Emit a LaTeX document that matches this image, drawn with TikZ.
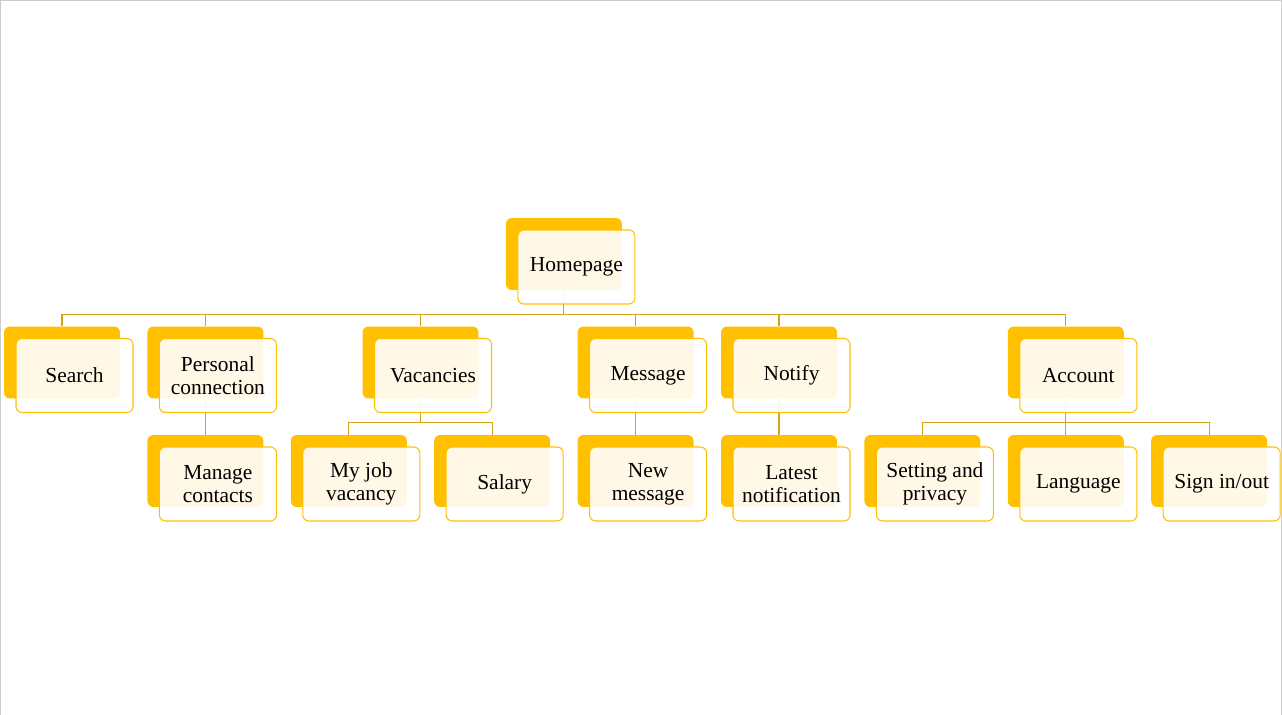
\documentclass[tikz,border=0pt]{standalone}
\usepackage{fontspec}
\setmainfont{Liberation Serif}
\definecolor{gold}{HTML}{FFC000}
\definecolor{linkgold}{HTML}{D4A419}

\begin{document}
\begin{tikzpicture}[x=0.02cm, y=-0.02cm,
    back/.style={fill=gold, rounded corners=0.12cm, minimum width=2.32cm, minimum height=1.44cm, inner sep=0pt},
    front/.style={draw=gold, line width=0.6pt, fill=white, fill opacity=0.9, text opacity=1, rounded corners=0.12cm,
        minimum width=2.34cm, minimum height=1.48cm, inner sep=0pt, align=center, font=\fontsize{12.2}{13}\selectfont},
    link/.style={draw=linkgold, line width=0.6pt}]
    \useasboundingbox (0,0) rectangle (1282,715);
    \draw[gray!40, line width=1pt] (0.5,715) -- (0.5,0.5) -- (1281.5,0.5) -- (1281.5,715);
    % boxes: name/column/row/text
    \def\boxes{home/3.5/0/Homepage, search/0/1/Search, pers/1/1/{Personal\\connection}, vac/2.5/1/Vacancies,
        msg/4/1/Message, notif/5/1/Notify, acct/7/1/Account, manage/1/2/{Manage\\contacts},
        myjob/2/2/{My job\\vacancy}, salary/3/2/Salary, newmsg/4/2/{New\\message}, latest/5/2/{Latest\\notification},
        setting/6/2/{Setting and\\privacy}, lang/7/2/Language, sign/8/2/{Sign in/out}}
    \foreach \nm/\c/\r/\txt in \boxes
        \node[back] (\nm-b) at ({62+143.4*\c}, {254+108.5*\r}) {};
    \foreach \p/\c in {home/search, home/pers, home/vac, home/msg, home/notif, home/acct, pers/manage,
        vac/myjob, vac/salary, msg/newmsg, notif/latest, acct/setting, acct/lang, acct/sign}
        \draw[link] (\p-b.south) |- ([yshift=0.24cm]\c-b.north) -- (\c-b.north);
    \foreach \nm/\c/\r/\txt in \boxes
        \node[front] (\nm) at ({74.5+143.4*\c}, {267+108.5*\r}) {\txt};
\end{tikzpicture}
\end{document}
